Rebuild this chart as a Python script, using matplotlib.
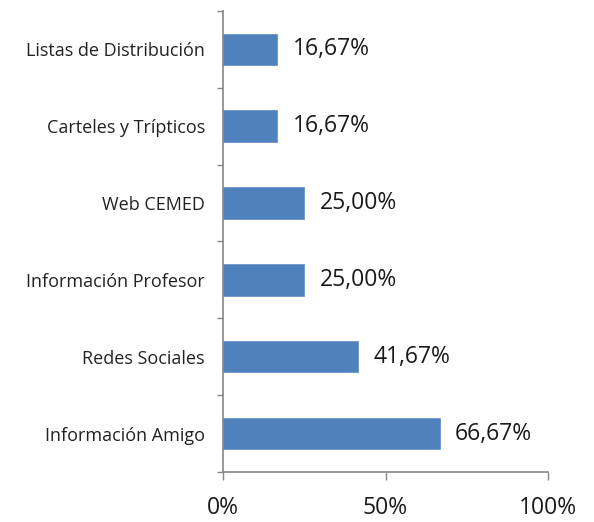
import numpy as np
import matplotlib
matplotlib.use("Agg")
import matplotlib.pyplot as plt
from matplotlib.ticker import FixedLocator

# bottom to top
categories = ["Información Amigo", "Redes Sociales", "Información Profesor",
              "Web CEMED", "Carteles y Trípticos", "Listas de Distribución"]
values = [66.67, 41.67, 25.00, 25.00, 16.67, 16.67]
xticks = [0, 50, 100]
xticklabels = ["0%", "50%", "100%"]

BAR = "#4F81BD"
AXIS = "#868686"
FONT = ["Open Sans", "DejaVu Sans"]

fig = plt.figure(figsize=(5.94, 5.22), dpi=100)
ax = fig.add_axes([0.3754, 0.0958, 0.5472, 0.8832])

y = np.arange(len(categories))
ax.barh(y, values, height=0.41, color=BAR, edgecolor="#6a95c9", linewidth=0.6, zorder=2)
for yi, v in zip(y, values):
    ax.annotate(f"{v:.2f}%".replace(".", ","), (v, yi), xytext=(11, 0),
                textcoords="offset points", va="center", ha="left",
                fontsize=16.5, family=FONT, color="#1a1a1a")

ax.set_xlim(0, 100)
ax.set_ylim(-0.5, len(categories) - 0.5)
ax.set_xticks(xticks)
ax.set_xticklabels(xticklabels, fontsize=16.5, family=FONT, color="#1a1a1a")
ax.set_yticks(y)
ax.set_yticklabels(categories, fontsize=13, family=FONT, color="#222222")
ax.yaxis.set_minor_locator(FixedLocator(np.arange(-0.5, len(categories), 1.0)))

ax.tick_params(axis="y", which="major", length=0, pad=13)
ax.tick_params(axis="y", which="minor", length=4, color=AXIS, width=1)
ax.tick_params(axis="x", length=6, color=AXIS, width=1, pad=11)

for s in ("top", "right"):
    ax.spines[s].set_visible(False)
for s in ("left", "bottom"):
    ax.spines[s].set_color(AXIS)
    ax.spines[s].set_linewidth(1.2)

fig.savefig("out.png", dpi=100)
